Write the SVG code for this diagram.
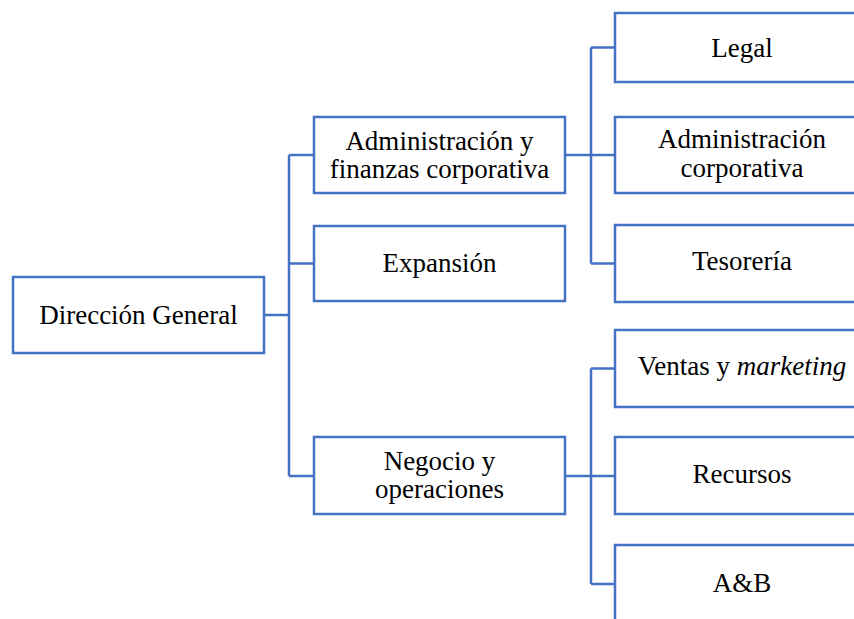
<svg xmlns="http://www.w3.org/2000/svg" width="854" height="619" viewBox="0 0 854 619">
<style>
.box{fill:#fff;stroke:#4472C4;stroke-width:2.5}
.ln{fill:none;stroke:#4472C4;stroke-width:2.5}
text{font-family:"Liberation Serif","Times New Roman",serif;font-size:27px;fill:#000;text-anchor:middle}
</style>
<rect width="854" height="619" fill="#fff"/>
<g id="connectors">
<path class="ln" d="M264 315H289M289 155V476M289 155H314M289 263.5H314M289 476H314"/>
<path class="ln" d="M565 155H615M591 47.5V263.5M591 47.5H615M591 263.5H615"/>
<path class="ln" d="M565 476H615M591 368.5V584M591 368.5H615M591 584H615"/>
</g>
<g id="direccion">
<rect class="box" x="13" y="277" width="251" height="76"/>
<text x="138.5" y="324">Dirección General</text>
</g>
<g id="admin-finanzas">
<rect class="box" x="314" y="117" width="251" height="76"/>
<text x="439.5" y="150">Administración y</text>
<text x="439.5" y="178">finanzas corporativa</text>
</g>
<g id="expansion">
<rect class="box" x="314" y="226" width="251" height="75"/>
<text x="439.5" y="272">Expansión</text>
</g>
<g id="negocio">
<rect class="box" x="314" y="437" width="251" height="77"/>
<text x="439.5" y="470">Negocio y</text>
<text x="439.5" y="498">operaciones</text>
</g>
<g id="legal">
<rect class="box" x="615" y="13" width="270" height="69"/>
<text x="742" y="57">Legal</text>
</g>
<g id="admin-corporativa">
<rect class="box" x="615" y="117" width="270" height="76"/>
<text x="742" y="148">Administración</text>
<text x="742" y="177">corporativa</text>
</g>
<g id="tesoreria">
<rect class="box" x="615" y="225" width="270" height="77"/>
<text x="742" y="270">Tesorería</text>
</g>
<g id="ventas">
<rect class="box" x="615" y="330" width="270" height="77"/>
<text x="742" y="375">Ventas y <tspan font-style="italic">marketing</tspan></text>
</g>
<g id="recursos">
<rect class="box" x="615" y="437" width="270" height="77"/>
<text x="742" y="483">Recursos</text>
</g>
<g id="ayb">
<rect class="box" x="615" y="545" width="270" height="90"/>
<text x="742" y="592">A&amp;B</text>
</g>
</svg>
